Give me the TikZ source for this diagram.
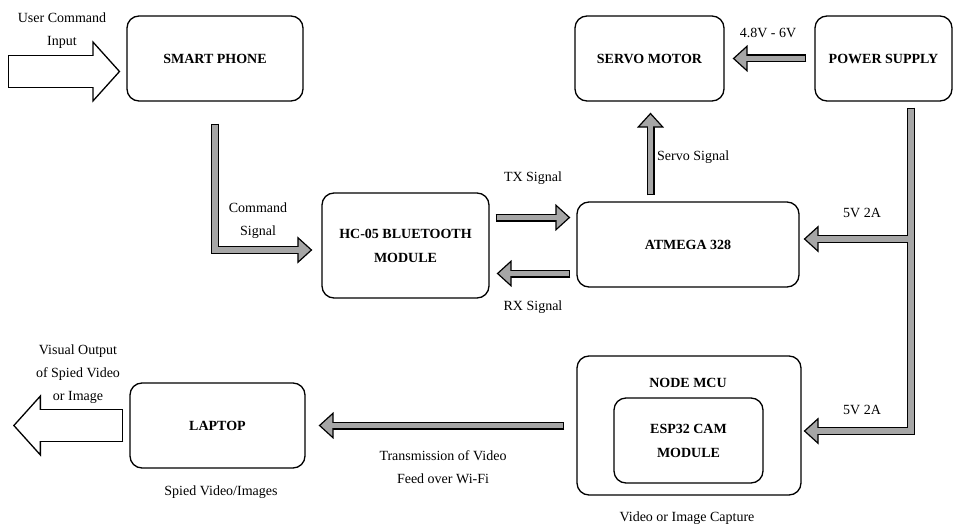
\documentclass[tikz,border=0pt]{standalone}
\usepackage{fontspec}
\setmainfont{Liberation Serif}
\usetikzlibrary{arrows.meta,calc}
\definecolor{arrowgray}{RGB}{166,166,166}

\begin{document}
\begin{tikzpicture}[
    x=1pt, y=1pt,
    font=\fontsize{14}{23}\selectfont,
    block/.style={rectangle, draw, line width=1.3pt, rounded corners=12pt,
                  minimum width=#1, minimum height=85pt, inner sep=0pt,
                  align=center, font=\fontsize{14}{24}\selectfont\bfseries},
    txt/.style={align=center, inner sep=0pt},
    fatout/.style={line width=8pt,
                   -{Triangle[length=15pt, width=27pt, line width=1.2pt, fill=arrowgray]}},
    fatin/.style={line width=5.6pt, draw=arrowgray, shorten >=13pt, shorten <=1.2pt},
    bigout/.style={line width=33pt,
                   -{Triangle[length=28pt, width=62pt, line width=1.3pt, fill=white]}},
    bigin/.style={line width=30.4pt, draw=white, shorten >=25pt, shorten <=1.3pt}
]
    \useasboundingbox (0,0) rectangle (956,-527);

    % blocks
    \node[block=176pt] (phone) at (215,-58.5) {SMART PHONE};
    \node[block=167pt, minimum height=105pt] (bt) at (405.5,-245.5) {HC-05 BLUETOOTH\\MODULE};
    \node[block=149pt] (servo) at (649.5,-58.5) {SERVO MOTOR};
    \node[block=137pt] (ps) at (883.5,-58.5) {POWER SUPPLY};
    \node[block=222pt] (atm) at (688,-244.5) {ATMEGA 328};
    \node[block=175pt] (laptop) at (217.5,-425.5) {LAPTOP};
    \node[block=224pt, minimum height=139pt] (mcu) at (689,-425.5) {};
    \node[txt, font=\fontsize{14}{24}\selectfont\bfseries] (mcutitle) at (688,-383) {NODE MCU};
    \node[block=149pt] (esp) at (688.5,-440.5) {ESP32 CAM\\MODULE};

    % input and output arrows
    \coordinate (cin) at (8,-71.5);
    \coordinate (cout) at (13,-425.5);
    \draw[bigout] (cin) -- ($(phone.west)+(-6,-13)$);
    \draw[bigin] (cin) -- ($(phone.west)+(-6,-13)$);
    \draw[bigout] ($(laptop.west)+(-6,0)$) -- (cout);
    \draw[bigin] ($(laptop.west)+(-6,0)$) -- (cout);

    % signal arrows
    \draw[fatout] ($(phone.south)+(0,-22)$) |- ($(bt.west)+(-9,-4.5)$);
    \draw[fatin] ($(phone.south)+(0,-22)$) |- ($(bt.west)+(-9,-4.5)$);
    \draw[fatout] ($(bt.east)+(6,28)$) -- ($(bt.east -| atm.west)+(-6,28)$);
    \draw[fatin] ($(bt.east)+(6,28)$) -- ($(bt.east -| atm.west)+(-6,28)$);
    \draw[fatout] ($(bt.east -| atm.west)+(-6,-28)$) -- ($(bt.east)+(7,-28)$);
    \draw[fatin] ($(bt.east -| atm.west)+(-6,-28)$) -- ($(bt.east)+(7,-28)$);
    \draw[fatout] ($(servo.south |- atm.north)+(1,6)$) -- ($(servo.south)+(1,-11)$);
    \draw[fatin] ($(servo.south |- atm.north)+(1,6)$) -- ($(servo.south)+(1,-11)$);
    \draw[fatout] ($(ps.west)+(-8,0)$) -- ($(servo.east)+(8,0)$);
    \draw[fatin] ($(ps.west)+(-8,0)$) -- ($(servo.east)+(8,0)$);
    \draw[fatout] ($(mcu.west)+(-12,0)$) -- ($(laptop.east)+(13,0)$);
    \draw[fatin] ($(mcu.west)+(-12,0)$) -- ($(laptop.east)+(13,0)$);

    % power bus
    \coordinate (bus) at ($(ps.south)+(27.5,-6)$);
    \draw[fatout] (bus) |- ($(mcu.east)+(2,-5.5)$);
    \draw[fatout] ($(bus |- atm.east)+(0,5.5)$) -- ($(atm.east)+(4,5.5)$);
    \draw[fatin] (bus) |- ($(mcu.east)+(2,-5.5)$);
    \draw[fatin] ($(bus |- atm.east)+(0,5.5)$) -- ($(atm.east)+(4,5.5)$);

    % labels
    \node[txt] (lblin) at (62,-31) {User Command\\Input};
    \node[txt] (lblcmd) at (258,-221) {Command\\Signal};
    \node[txt] (lbltx) at (533,-178) {TX Signal};
    \node[txt] (lblrx) at (533,-307) {RX Signal};
    \node[txt, anchor=west] (lblservo) at (657,-157) {Servo Signal};
    \node[txt] (lblvolt) at (768,-33) {4.8V - 6V};
    \node[txt] (lblfive) at (862,-213) {5V 2A};
    \node[txt] (lblfivemcu) at (862,-410) {5V 2A};
    \node[txt] (lblout) at (78,-374) {Visual Output\\of Spied Video\\or Image};
    \node[txt] (lbllaptop) at (221,-492) {Spied Video/Images};
    \node[txt] (lblwifi) at (443,-467) {Transmission of Video\\Feed over Wi-Fi};
    \node[txt] (lblcapture) at (687,-518) {Video or Image Capture};
\end{tikzpicture}
\end{document}
